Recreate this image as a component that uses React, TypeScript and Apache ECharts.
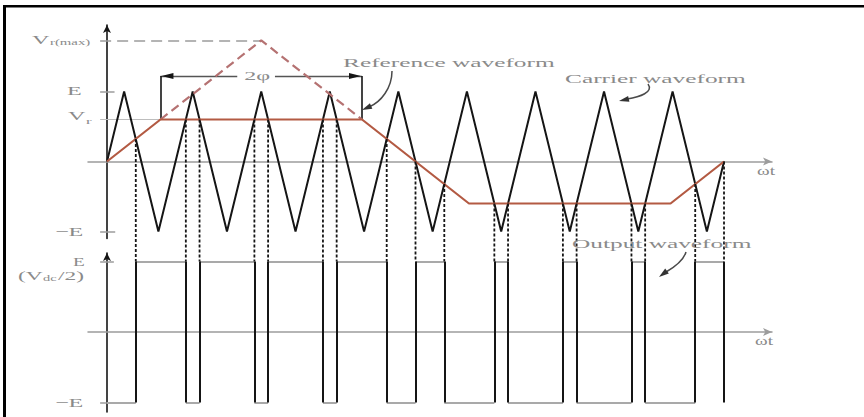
import React, { useEffect, useRef } from 'react';
import * as echarts from 'echarts';

// Time is measured in carrier periods, voltages in units of E.
const carrierT = [0, 0.25, 0.75, 1.25, 1.75, 2.25, 2.75, 3.25, 3.75, 4.25, 4.75, 5.25, 5.75, 6.25, 6.75, 7.25, 7.75, 8.25, 8.75, 9];
const carrierV = [0, 1, -1, 1, -1, 1, -1, 1, -1, 1, -1, 1, -1, 1, -1, 1, -1, 1, -1, 0];

// Trapezoidal reference (clipped triangle)
const refT = [0, 0.78, 3.72, 5.28, 8.22, 9];
const refV = [0, 0.6, 0.6, -0.6, -0.6, 0];

// Unclipped triangle peak shown dashed
const peakT = [0.78, 2.25, 3.72];
const peakV = [0.6, 1.73, 0.6];

// Instants where carrier and reference cross (output switches)
const switchT = [0.42, 1.15, 1.35, 2.15, 2.35, 3.15, 3.35, 4.08, 4.5, 4.92, 5.65, 5.85, 6.65, 6.85, 7.65, 7.85, 8.58, 9];

const E = 1;
const VR = 0.6;
const VR_MAX = 1.73;
const SPAN_LEVEL = 1.22;
const SPAN_GAP = [1.9, 2.45];

const BLACK = '#151515';
const GRAY = '#9c9c9c';
const LIGHT = '#bdbdbd';
const LABEL = '#8a8a8a';
const REF = '#b35a43';
const REF_DASH = '#b57272';
const FONT = 'Liberation Serif';

function refAt(t: number): number {
  for (let i = 0; i < refT.length - 1; i++) {
    if (t >= refT[i] && t <= refT[i + 1]) {
      const f = (t - refT[i]) / (refT[i + 1] - refT[i]);
      return refV[i] + f * (refV[i + 1] - refV[i]);
    }
  }
  return refV[refV.length - 1];
}

function seg(a: number[], b: number[]) {
  return { coords: [a, b] };
}

function buildOption() {
  const horiz: any[] = [];
  const verts: any[] = [];
  let level = -E;
  let start = 0;
  for (const t of switchT) {
    horiz.push(seg([start, level], [t, level]));
    verts.push(seg([t, -E], [t, E]));
    level = -level;
    start = t;
  }

  const axisBase = {
    axisTick: { show: false },
    axisLabel: { show: false },
    splitLine: { show: false },
  };

  const linesSeries = (g: number, data: any[], color: string, width: number, type: any = 'solid', z = 3) => ({
    type: 'lines',
    coordinateSystem: 'cartesian2d',
    xAxisIndex: g,
    yAxisIndex: g,
    polyline: false,
    silent: true,
    z,
    data,
    lineStyle: { color, width, type, opacity: 1, curveness: 0 },
  });

  return {
    animation: false,
    backgroundColor: '#ffffff',
    grid: [
      { left: 88, top: 25, width: 684, height: 213.5 },
      { left: 88, top: 253, width: 684, height: 159 },
    ],
    xAxis: [0, 1].map((g) => ({
      type: 'value',
      gridIndex: g,
      min: -0.277,
      max: 9.7,
      ...axisBase,
      axisLine: {
        show: true,
        onZero: true,
        symbol: ['none', 'arrow'],
        symbolSize: [6, 9],
        lineStyle: { color: GRAY, width: 1.5 },
      },
    })),
    yAxis: [
      { min: -1.1, max: 1.95 },
      { min: -1.135, max: 1.12 },
    ].map((r, g) => ({
      type: 'value',
      gridIndex: g,
      min: r.min,
      max: r.max,
      ...axisBase,
      axisLine: {
        show: true,
        onZero: true,
        symbol: ['none', 'arrow'],
        symbolSize: [6, 8],
        lineStyle: { color: BLACK, width: 1.6 },
      },
    })),
    series: [
      // level ticks, upper plot
      linesSeries(0, [seg([-0.1, E], [0.11, E]), seg([-0.1, -E], [0.12, -E])], GRAY, 1.5),
      linesSeries(0, [seg([-0.1, VR], [peakT[0], VR])], LIGHT, 1.2),
      linesSeries(0, [seg([-0.1, VR_MAX], [peakT[1], VR_MAX])], GRAY, 1.5, [11, 6]),
      // level ticks, lower plot
      linesSeries(1, [seg([-0.1, E], [0.1, E]), seg([-0.1, -E], [0, -E])], GRAY, 1.5),
      // 2φ dimension
      linesSeries(
        0,
        [
          seg([peakT[0], SPAN_LEVEL], [SPAN_GAP[0], SPAN_LEVEL]),
          seg([SPAN_GAP[1], SPAN_LEVEL], [peakT[2], SPAN_LEVEL]),
        ],
        '#555555',
        1.4
      ),
      linesSeries(
        0,
        [seg([peakT[0], VR], [peakT[0], SPAN_LEVEL]), seg([peakT[2], VR], [peakT[2], SPAN_LEVEL])],
        BLACK,
        1.6
      ),
      // carrier
      {
        type: 'line',
        xAxisIndex: 0,
        yAxisIndex: 0,
        silent: true,
        symbol: 'none',
        z: 4,
        data: carrierT.map((t, i) => [t, carrierV[i]]),
        lineStyle: { color: BLACK, width: 2 },
      },
      // dashed triangle peak
      {
        type: 'line',
        xAxisIndex: 0,
        yAxisIndex: 0,
        silent: true,
        symbol: 'none',
        z: 5,
        data: peakT.map((t, i) => [t, peakV[i]]),
        lineStyle: { color: REF_DASH, width: 2.2, type: [9, 5] },
      },
      // reference
      {
        type: 'line',
        xAxisIndex: 0,
        yAxisIndex: 0,
        silent: true,
        symbol: 'none',
        z: 6,
        data: refT.map((t, i) => [t, refV[i]]),
        lineStyle: { color: REF, width: 2.2 },
      },
      // output waveform
      linesSeries(1, horiz, '#a9a9a9', 2),
      linesSeries(1, verts, BLACK, 2, 'solid', 4),
    ],
  };
}

function arrowHead(tip: number[], from: number[], len: number, half: number, fill: string) {
  const dx = tip[0] - from[0];
  const dy = tip[1] - from[1];
  const d = Math.hypot(dx, dy) || 1;
  const ux = dx / d;
  const uy = dy / d;
  const bx = tip[0] - ux * len;
  const by = tip[1] - uy * len;
  return {
    type: 'polygon',
    silent: true,
    z: 20,
    shape: {
      points: [tip, [bx - uy * half, by + ux * half], [bx + uy * half, by - ux * half]],
    },
    style: { fill },
  };
}

function txt(text: string, x: number, y: number, size: number, sx: number) {
  return {
    type: 'text',
    x,
    y,
    scaleX: sx,
    silent: true,
    z: 20,
    style: {
      text,
      fill: LABEL,
      font: `${size}px "${FONT}"`,
      align: 'left',
      verticalAlign: 'middle',
      textAlign: 'left',
      textVerticalAlign: 'middle',
    },
  };
}

function buildGraphic(chart: echarts.ECharts) {
  const px = (g: number, p: number[]) => chart.convertToPixel({ gridIndex: g }, p) as number[];
  const els: any[] = [];

  // frame edges
  els.push({ type: 'rect', shape: { x: 3, y: 5, width: 3, height: 412 }, style: { fill: '#000' }, z: 30 });
  els.push({ type: 'rect', shape: { x: 3, y: 5, width: 861, height: 2.5 }, style: { fill: '#000' }, z: 30 });

  // dotted projections from crossings down to the output
  for (const t of switchT) {
    const a = px(0, [t, refAt(t)]);
    const b = px(1, [t, E]);
    els.push({
      type: 'line',
      silent: true,
      z: 15,
      shape: { x1: a[0], y1: a[1], x2: b[0], y2: b[1] },
      style: { stroke: BLACK, lineWidth: 1.8, lineDash: [3, 2] },
    });
  }

  // 2φ arrowheads
  const l = px(0, [peakT[0], SPAN_LEVEL]);
  const r = px(0, [peakT[2], SPAN_LEVEL]);
  els.push(arrowHead([l[0] + 1, l[1]], [l[0] + 20, l[1]], 12, 3, BLACK));
  els.push(arrowHead([r[0] - 1, r[1]], [r[0] - 20, r[1]], 12, 3, BLACK));
  const mid = px(0, [SPAN_GAP[0], SPAN_LEVEL]);
  els.push(txt('2φ', mid[0] + 7, mid[1], 13, 1.85));

  // level labels, upper plot
  const yMax = px(0, [0, VR_MAX])[1];
  const yE = px(0, [0, E])[1];
  const yVr = px(0, [0, VR])[1];
  const yNE = px(0, [0, -E])[1];
  els.push(txt('V', 32, yMax - 1, 13, 1.85));
  els.push(txt('r(max)', 50, yMax + 2, 8, 1.85));
  els.push(txt('E', 67, yE - 1, 13, 1.85));
  els.push(txt('V', 68, yVr - 4, 13, 1.85));
  els.push(txt('r', 86, yVr + 1, 9, 1.85));
  els.push(txt('−E', 55, yNE, 13, 1.85));

  // level labels, lower plot
  const lE = px(1, [0, E])[1];
  const lNE = px(1, [0, -E])[1];
  els.push(txt('E', 73, lE, 12, 1.6));
  els.push(txt('(V', 18, lE + 14, 13, 1.8));
  els.push(txt('dc', 43, lE + 17, 8, 1.8));
  els.push(txt('/2)', 58, lE + 14, 13, 1.8));
  els.push(txt('−E', 55, lNE, 13, 1.85));

  // time axis names
  const z0 = px(0, [9.7, 0]);
  const z1 = px(1, [9.7, 0]);
  els.push(txt('ωt', z0[0] - 15, z0[1] + 9, 12, 1.6));
  els.push(txt('ωt', z1[0] - 17, z1[1] + 9, 12, 1.6));

  // annotations with curved pointers
  els.push(txt('Reference waveform', 343, 62, 13, 1.95));
  els.push(txt('Carrier waveform', 565, 78, 13, 1.95));
  els.push(txt('Output waveform', 572, 243, 13, 1.95));

  const curve = (x1: number, y1: number, c1x: number, c1y: number, c2x: number, c2y: number, x2: number, y2: number) => ({
    type: 'bezierCurve',
    silent: true,
    z: 20,
    shape: { x1, y1, cpx1: c1x, cpy1: c1y, cpx2: c2x, cpy2: c2y, x2, y2 },
    style: { stroke: '#4a4a4a', lineWidth: 1.5, fill: 'none' },
  });
  els.push(curve(392, 71, 392, 88, 381, 102, 369, 107));
  els.push(arrowHead([362, 110], [371, 106], 10, 3, '#333'));
  els.push(curve(648, 84, 654, 92, 640, 97, 627, 99));
  els.push(arrowHead([619, 101], [628, 99], 10, 3, '#333'));
  els.push(curve(686, 252, 683, 262, 673, 268, 666, 272));
  els.push(arrowHead([659, 277], [667, 271], 10, 3, '#333'));

  return els;
}

export default function App() {
  const ref = useRef<HTMLDivElement>(null);
  useEffect(() => {
    const el = ref.current;
    if (!el) return;
    const chart = echarts.init(el, null, { renderer: 'svg' });
    chart.setOption(buildOption() as any);
    chart.setOption({ graphic: { elements: buildGraphic(chart) } } as any);
    return () => chart.dispose();
  }, []);
  return (
    <div
      ref={ref}
      style={{ position: 'fixed', left: 0, top: 0, width: 864, height: 417, background: '#ffffff' }}
    />
  );
}
